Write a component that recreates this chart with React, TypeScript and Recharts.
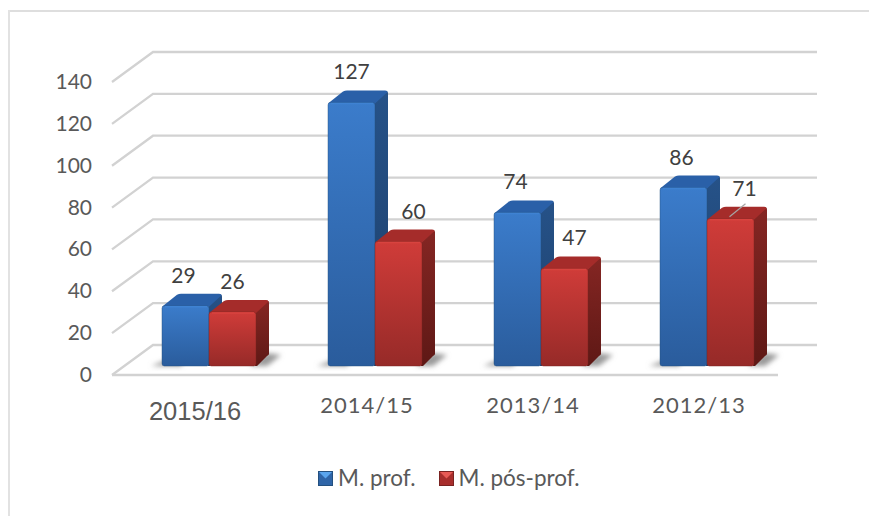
import { Bar, BarChart, CartesianGrid, LabelList, Legend, XAxis, YAxis } from "recharts";

const categories = ["2015/16", "2014/15", "2013/14", "2012/13"];
const profValues = [29, 127, 74, 86];
const posProfValues = [26, 60, 47, 71];
const yTicks = [0, 20, 40, 60, 80, 100, 120, 140];

// how far each value label sits from the centre of its bar
const profLabelShift = [-2, 0, -2, -2];
const posProfLabelShift = [0, 15, 10, 14];

const data = categories.map((name, i) => ({
  name,
  prof: profValues[i],
  posProf: posProfValues[i],
}));

const DEPTH_X = 13;
const DEPTH_Y = 12;
const PLOT_BOTTOM = 366;
const WALL_STRETCH = 293 / 290.5; // the back wall and the axis run slightly taller than the bars
const LABEL_FONT = "Lato, sans-serif";
const TEXT_COLOR = "#595959";

const BLUE = { front: "url(#blueFront)", side: "url(#blueSide)", top: "#2a60a8", edge: "#3f82d2", line: "#24507f" };
const RED = { front: "url(#redFront)", side: "url(#redSide)", top: "#a52c2a", edge: "#d8433f", line: "#7a2321" };

const wallY = (y: number) => PLOT_BOTTOM - (PLOT_BOTTOM - y) * WALL_STRETCH;

function Bar3D(props: any, c: typeof BLUE, shadow: "left" | "right") {
  const { x, y, width, height } = props;
  const right = x + width;
  const base = y + height;
  const dx = DEPTH_X;
  const dy = DEPTH_Y;
  return (
    <g>
      {shadow === "left" ? (
        <path d={`M${x - 11} ${base} L${x + 2} ${base - 5} L${x + 20} ${base - 5} L${x + 20} ${base} Z`} fill="#9a9a9a" filter="url(#floorBlur)" />
      ) : (
        <path d={`M${right - 6} ${base} L${right + 11} ${base} L${right + 25} ${base - 11} L${right + 10} ${base - 13} Z`} fill="#9a9a9a" filter="url(#floorBlur)" />
      )}
      <path
        d={`M${right - 1} ${y + 1} L${right + dx - 2} ${y - dy + 1} Q${right + dx} ${y - dy} ${right + dx} ${y - dy + 3} L${right + dx} ${base - dy} Q${right + dx} ${base - dy + 1} ${right + dx - 2} ${base - dy + 2} L${right + 1} ${base} L${right - 1} ${base} Z`}
        fill={c.side}
      />
      <path
        d={`M${x} ${y + 1} L${x + dx + 2} ${y - dy + 1} Q${x + dx + 4} ${y - dy} ${x + dx + 6} ${y - dy} L${right + dx - 3} ${y - dy} Q${right + dx} ${y - dy} ${right + dx - 1} ${y - dy + 2} L${right} ${y + 1} Z`}
        fill={c.top}
      />
      <rect x={x} y={y} width={width} height={height} rx={2.5} fill={c.front} stroke={c.line} strokeOpacity={0.45} strokeWidth={1} />
      <line x1={x + 3} y1={y + 1} x2={right - 2} y2={y + 1} stroke={c.edge} strokeWidth={1.5} />
    </g>
  );
}

function ValueLabel(props: any, shifts: number[], leaderAt: number) {
  const { x, y, width, index, value } = props;
  const cx = x + width / 2 + shifts[index];
  return (
    <g>
      {index === leaderAt && <line x1={cx - 15} y1={y - 2} x2={cx + 1} y2={y - 15} stroke="#a6a6a6" strokeWidth={1.2} />}
      <text x={cx} y={y - 23} textAnchor="middle" fontFamily={LABEL_FONT} fontSize={21} fill="#404040">
        {value}
      </text>
    </g>
  );
}

function GridLine(props: any) {
  const { x1, x2, y1, index } = props;
  const y = wallY(y1);
  const backY = y - 21;
  const frontY = y + 9;
  const isFloor = Math.abs(y1 - PLOT_BOTTOM) < 1;
  return (
    <g key={`grid-${index}`} fill="none" stroke="#d2d2d2" strokeWidth={2.3}>
      <polyline points={`${x1 - 14},${frontY} ${x1 + 27},${backY} ${x2 + 27},${backY}`} />
      {isFloor && <line x1={x1 - 14} y1={frontY} x2={x2 - 12} y2={frontY} />}
    </g>
  );
}

function YTick(props: any) {
  const { x, y, payload } = props;
  return (
    <text x={x - 28} y={wallY(y) + 16} textAnchor="end" fontFamily={LABEL_FONT} fontSize={21} fill={TEXT_COLOR}>
      {payload.value}
    </text>
  );
}

function XTick(props: any) {
  const { x, y, payload, index } = props;
  if (index === 0) {
    return (
      <text x={x - 14} y={y + 46} textAnchor="middle" fontFamily="'Liberation Sans', Arial, sans-serif" fontSize={25.5} fill={TEXT_COLOR}>
        {payload.value}
      </text>
    );
  }
  return (
    <text x={x - 8} y={y + 39} textAnchor="middle" fontFamily={LABEL_FONT} fontSize={22} letterSpacing={1} fill={TEXT_COLOR}>
      {payload.value}
    </text>
  );
}

function LegendIcon({ dark, light, mid }: { dark: string; light: string; mid: string }) {
  return (
    <svg width={15} height={15} style={{ display: "block" }}>
      <rect x={0} y={0} width={15} height={15} fill={dark} />
      <rect x={1} y={1} width={13} height={13} fill={mid} />
      <path d="M1 1 L14 1 L7.5 7.5 Z" fill={light} />
    </svg>
  );
}

function ChartLegend() {
  const itemStyle = { display: "flex", alignItems: "center", gap: 5 };
  return (
    <div style={{ display: "flex", gap: 23, fontFamily: LABEL_FONT, fontSize: 22.5, color: TEXT_COLOR, lineHeight: "26px" }}>
      <div style={itemStyle}>
        <LegendIcon dark="#24507f" mid="#2f65a8" light="#5aa5ee" />
        M. prof.
      </div>
      <div style={itemStyle}>
        <LegendIcon dark="#7a2321" mid="#a82e2c" light="#e85a55" />
        M. pós-prof.
      </div>
    </div>
  );
}

export default function App() {
  return (
    <div style={{ position: "absolute", left: 0, top: 0, width: 869, height: 516, overflow: "hidden", background: "#fff" }}>
      <div style={{ position: "absolute", left: 8, top: 10, width: 861, height: 2, background: "#dedede" }} />
      <div style={{ position: "absolute", left: 8, top: 10, width: 2, height: 506, background: "#e2e2e2" }} />
      <BarChart
        width={869}
        height={516}
        data={data}
        barSize={47}
        barGap={0}
        margin={{ top: 75.5, right: 79, bottom: 64, left: 56 }}
      >
        <defs>
          <linearGradient id="blueFront" x1="0" y1="0" x2="0" y2="1">
            <stop offset="0%" stopColor="#3b7ccb" />
            <stop offset="100%" stopColor="#2a5c9c" />
          </linearGradient>
          <linearGradient id="blueSide" x1="0" y1="0" x2="0" y2="1">
            <stop offset="0%" stopColor="#265288" />
            <stop offset="100%" stopColor="#1c3f6b" />
          </linearGradient>
          <linearGradient id="redFront" x1="0" y1="0" x2="0" y2="1">
            <stop offset="0%" stopColor="#d03c39" />
            <stop offset="100%" stopColor="#962a28" />
          </linearGradient>
          <linearGradient id="redSide" x1="0" y1="0" x2="0" y2="1">
            <stop offset="0%" stopColor="#852623" />
            <stop offset="100%" stopColor="#5e1815" />
          </linearGradient>
          <filter id="floorBlur" x="-50%" y="-100%" width="200%" height="300%">
            <feGaussianBlur stdDeviation="2.5" />
          </filter>
        </defs>
        <CartesianGrid vertical={false} horizontal={GridLine} />
        <XAxis dataKey="name" axisLine={false} tickLine={false} height={50} tick={XTick} interval={0} />
        <YAxis
          domain={[0, 140]}
          ticks={yTicks}
          width={70}
          axisLine={false}
          tickLine={false}
          tickMargin={0}
          tick={YTick}
          interval={0}
        />
        <Legend
          content={<ChartLegend />}
          height={36}
          verticalAlign="bottom"
          wrapperStyle={{ left: 318, width: 400, bottom: 15 }}
        />
        <Bar dataKey="prof" name="M. prof." isAnimationActive={false} shape={(p: any) => Bar3D(p, BLUE, "left")}>
          <LabelList dataKey="prof" content={(p: any) => ValueLabel(p, profLabelShift, -1)} />
        </Bar>
        <Bar dataKey="posProf" name="M. pós-prof." isAnimationActive={false} shape={(p: any) => Bar3D(p, RED, "right")}>
          <LabelList dataKey="posProf" content={(p: any) => ValueLabel(p, posProfLabelShift, 3)} />
        </Bar>
      </BarChart>
    </div>
  );
}
